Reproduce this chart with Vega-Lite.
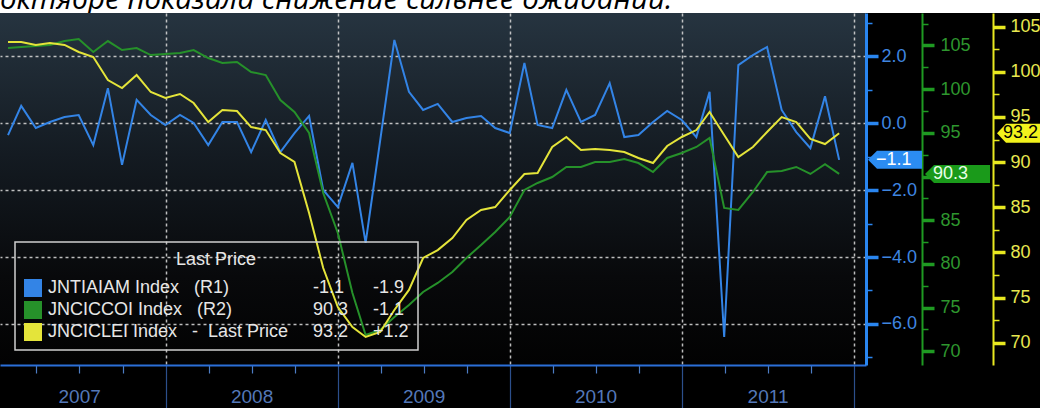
{
  "$schema": "https://vega.github.io/schema/vega-lite/v6.json",
  "background": "#000000",
  "padding": 0,
  "spacing": 0,
  "bounds": "flush",
  "config": {"view": {"stroke": null}},
  "datasets": {
    "m": [
      {"date": "2007-01-31", "tia": -0.36, "coi": 104.70, "lei": 103.30},
      {"date": "2007-02-28", "tia": 0.51, "coi": 104.82, "lei": 103.30},
      {"date": "2007-03-31", "tia": -0.15, "coi": 104.93, "lei": 102.97},
      {"date": "2007-04-30", "tia": 0.03, "coi": 105.05, "lei": 103.19},
      {"date": "2007-05-31", "tia": 0.18, "coi": 105.50, "lei": 102.97},
      {"date": "2007-06-30", "tia": 0.24, "coi": 105.73, "lei": 102.19},
      {"date": "2007-07-31", "tia": -0.66, "coi": 104.24, "lei": 101.64},
      {"date": "2007-08-31", "tia": 1.04, "coi": 105.50, "lei": 99.09},
      {"date": "2007-09-30", "tia": -1.25, "coi": 104.47, "lei": 98.20},
      {"date": "2007-10-31", "tia": 0.69, "coi": 104.70, "lei": 99.64},
      {"date": "2007-11-30", "tia": 0.24, "coi": 103.90, "lei": 97.76},
      {"date": "2007-12-31", "tia": -0.06, "coi": 104.02, "lei": 97.10},
      {"date": "2008-01-31", "tia": 0.24, "coi": 104.13, "lei": 97.54},
      {"date": "2008-02-29", "tia": 0.00, "coi": 104.47, "lei": 96.54},
      {"date": "2008-03-31", "tia": -0.66, "coi": 103.56, "lei": 94.44},
      {"date": "2008-04-30", "tia": 0.03, "coi": 102.99, "lei": 95.77},
      {"date": "2008-05-31", "tia": 0.03, "coi": 103.10, "lei": 95.66},
      {"date": "2008-06-30", "tia": -0.87, "coi": 101.96, "lei": 93.88},
      {"date": "2008-07-31", "tia": 0.09, "coi": 101.61, "lei": 93.55},
      {"date": "2008-08-31", "tia": -0.87, "coi": 98.75, "lei": 91.01},
      {"date": "2008-09-30", "tia": -0.30, "coi": 97.38, "lei": 90.01},
      {"date": "2008-10-31", "tia": 0.21, "coi": 94.98, "lei": 84.36},
      {"date": "2008-11-30", "tia": -2.00, "coi": 88.11, "lei": 78.27},
      {"date": "2008-12-31", "tia": -2.51, "coi": 83.54, "lei": 73.95},
      {"date": "2009-01-31", "tia": -1.19, "coi": 76.67, "lei": 71.74},
      {"date": "2009-02-28", "tia": -3.58, "coi": 71.87, "lei": 70.63},
      {"date": "2009-03-31", "tia": -0.51, "coi": 72.44, "lei": 71.18},
      {"date": "2009-04-30", "tia": 2.48, "coi": 73.93, "lei": 73.62},
      {"date": "2009-05-31", "tia": 0.93, "coi": 75.30, "lei": 75.84},
      {"date": "2009-06-30", "tia": 0.39, "coi": 76.79, "lei": 79.38},
      {"date": "2009-07-31", "tia": 0.57, "coi": 77.82, "lei": 80.26},
      {"date": "2009-08-31", "tia": 0.03, "coi": 79.08, "lei": 81.59},
      {"date": "2009-09-30", "tia": 0.15, "coi": 80.68, "lei": 83.59},
      {"date": "2009-10-31", "tia": 0.21, "coi": 82.16, "lei": 84.69},
      {"date": "2009-11-30", "tia": -0.15, "coi": 83.65, "lei": 85.02},
      {"date": "2009-12-31", "tia": -0.30, "coi": 85.37, "lei": 86.91},
      {"date": "2010-01-31", "tia": 1.79, "coi": 88.46, "lei": 88.68},
      {"date": "2010-02-28", "tia": -0.06, "coi": 89.26, "lei": 88.79},
      {"date": "2010-03-31", "tia": -0.15, "coi": 89.94, "lei": 91.67},
      {"date": "2010-04-30", "tia": 0.99, "coi": 91.09, "lei": 92.78},
      {"date": "2010-05-31", "tia": 0.03, "coi": 91.09, "lei": 91.34},
      {"date": "2010-06-30", "tia": 0.24, "coi": 91.66, "lei": 91.45},
      {"date": "2010-07-31", "tia": 1.19, "coi": 91.66, "lei": 91.34},
      {"date": "2010-08-31", "tia": -0.42, "coi": 92.00, "lei": 91.12},
      {"date": "2010-09-30", "tia": -0.36, "coi": 91.54, "lei": 90.45},
      {"date": "2010-10-31", "tia": 0.03, "coi": 90.51, "lei": 89.90},
      {"date": "2010-11-30", "tia": 0.36, "coi": 92.12, "lei": 91.78},
      {"date": "2010-12-31", "tia": 0.09, "coi": 92.69, "lei": 92.78},
      {"date": "2011-01-31", "tia": -0.42, "coi": 93.38, "lei": 93.55},
      {"date": "2011-02-28", "tia": 0.93, "coi": 94.41, "lei": 95.55},
      {"date": "2011-03-31", "tia": -6.39, "coi": 86.40, "lei": 93.00},
      {"date": "2011-04-30", "tia": 1.73, "coi": 86.17, "lei": 90.56},
      {"date": "2011-05-31", "tia": 2.03, "coi": 88.23, "lei": 91.67},
      {"date": "2011-06-30", "tia": 2.27, "coi": 90.51, "lei": 93.33},
      {"date": "2011-07-31", "tia": 0.39, "coi": 90.63, "lei": 94.99},
      {"date": "2011-08-31", "tia": -0.27, "coi": 91.09, "lei": 94.44},
      {"date": "2011-09-30", "tia": -0.75, "coi": 90.29, "lei": 92.56},
      {"date": "2011-10-31", "tia": 0.80, "coi": 91.40, "lei": 92.00},
      {"date": "2011-11-30", "tia": -1.10, "coi": 90.30, "lei": 93.20}
    ]
  },
  "vconcat": [
    {
      "width": 1040,
      "height": 13,
      "view": {"fill": "#ffffff", "stroke": null},
      "data": {"values": [{"t": "октябре показала снижение сильнее ожиданий."}]},
      "mark": {"type": "text", "clip": true, "align": "left", "baseline": "alphabetic", "font": "Open Sans", "fontStyle": "italic", "fontSize": 29.5, "color": "#000000", "dy": -4},
      "encoding": {"text": {"field": "t"}, "x": {"value": 0}, "y": {"value": "height"}}
    },
    {
      "width": 866,
      "height": 352,
      "view": {"stroke": null, "fill": {"gradient": "linear", "x1": 0, "y1": 0, "x2": 0, "y2": 1, "stops": [{"offset": 0, "color": "#263440"}, {"offset": 0.4, "color": "#141b22"}, {"offset": 0.75, "color": "#08090b"}, {"offset": 1, "color": "#020202"}]}},
      "data": {"name": "m"},
      "resolve": {"scale": {"y": "independent"}},
      "layer": [
        {
          "mark": {"type": "line", "color": "#3384e6", "strokeWidth": 2, "clip": true},
          "encoding": {
            "x": {
              "field": "date", "type": "temporal",
              "scale": {"type": "utc", "domain": [{"year": 2007, "month": 1, "date": 14, "utc": true}, {"year": 2012, "month": 1, "date": 26, "utc": true}]},
              "axis": {
                "orient": "bottom", "title": null,
                "values": [
                  {"year": 2007, "month": 4, "date": 1, "utc": true}, {"year": 2007, "month": 7, "date": 1, "utc": true}, {"year": 2007, "month": 10, "date": 1, "utc": true},
                  {"year": 2008, "month": 1, "date": 1, "utc": true}, {"year": 2008, "month": 4, "date": 1, "utc": true}, {"year": 2008, "month": 7, "date": 1, "utc": true}, {"year": 2008, "month": 10, "date": 1, "utc": true},
                  {"year": 2009, "month": 1, "date": 1, "utc": true}, {"year": 2009, "month": 4, "date": 1, "utc": true}, {"year": 2009, "month": 7, "date": 1, "utc": true}, {"year": 2009, "month": 10, "date": 1, "utc": true},
                  {"year": 2010, "month": 1, "date": 1, "utc": true}, {"year": 2010, "month": 4, "date": 1, "utc": true}, {"year": 2010, "month": 7, "date": 1, "utc": true}, {"year": 2010, "month": 10, "date": 1, "utc": true},
                  {"year": 2011, "month": 1, "date": 1, "utc": true}, {"year": 2011, "month": 4, "date": 1, "utc": true}, {"year": 2011, "month": 7, "date": 1, "utc": true}, {"year": 2011, "month": 10, "date": 1, "utc": true},
                  {"year": 2012, "month": 1, "date": 1, "utc": true}
                ],
                "domainColor": "#2b6fd8", "domainWidth": 2,
                "grid": true, "gridColor": "#d2d2d2", "gridDash": [3, 3], "gridWidth": 1.5,
                "gridOpacity": {"condition": {"test": "utcmonth(datum.value) === 0", "value": 0.9}, "value": 0},
                "tickSize": 43,
                "tickDash": {"condition": {"test": "utcmonth(datum.value) === 0", "value": [60, 1]}, "value": [8, 80]},
                "tickColor": {"condition": {"test": "utcmonth(datum.value) === 0", "value": "#2c4f8c"}, "value": "#4d7cc4"},
                "tickWidth": 1.2,
                "labelExpr": "utcmonth(datum.value) === 6 ? utcFormat(datum.value, '%Y') : ''",
                "labelFont": "Liberation Sans", "labelFontSize": 19, "labelColor": "#5478b8",
                "labelPadding": -21, "labelFlush": false, "labelOverlap": false
              }
            },
            "y": {
              "field": "tia", "type": "quantitative",
              "scale": {"domain": [-7.224, 3.284], "nice": false, "zero": false},
              "axis": {
                "orient": "right", "offset": 0, "title": null,
                "values": [3, 2, 1, 0, -1, -2, -3, -4, -5, -6, -7],
                "labelExpr": "datum.value % 2 === 0 ? format(datum.value, '.1f') : ''",
                "tickSize": 12,
                "tickDash": {"condition": {"test": "datum.value % 2 === 0", "value": [20, 1]}, "value": [6, 30]},
                "tickWidth": {"condition": {"test": "datum.value % 2 === 0", "value": 3.5}, "value": 1.5},
                "tickColor": "#2a86f0", "domainColor": "#2a86f0", "domainWidth": 3,
                "labelColor": "#3f86e0", "labelFont": "Liberation Sans", "labelFontSize": 18, "labelPadding": 3, "labelOverlap": false,
                "grid": true, "gridColor": "#d2d2d2", "gridDash": [3, 3], "gridWidth": 1.5,
                "gridOpacity": {"condition": {"test": "datum.value % 2 === 0", "value": 0.9}, "value": 0}
              }
            },
            "color": {
              "datum": "a",
              "scale": {"domain": ["a", "b", "c", "a1", "b1", "c1", "a2", "b2", "c2"], "range": ["#3384e6", "#26912a", "#e4e43a", "#000000", "#000000", "#000000", "#000000", "#000000", "#000000"]},
              "legend": {
                "orient": "none", "legendX": 15, "legendY": 242,
                "title": "Last Price", "titleColor": "#e6e6e6", "titleFont": "Liberation Sans", "titleFontSize": 18, "titleFontWeight": "normal", "titleAnchor": "middle", "titlePadding": 10,
                "columns": 3, "columnPadding": -8, "rowPadding": 4,
                "symbolType": "square", "symbolSize": 324, "symbolStrokeWidth": 0,
                "labelFont": "Liberation Sans", "labelFontSize": 18, "labelColor": "#e6e6e6", "labelOffset": 6, "labelLimit": 400,
                "labelExpr": "datum.value === 'a' ? 'JNTIAIAM Index\u00a0\u00a0\u00a0(R1)' : datum.value === 'a1' ? '-1.1' : datum.value === 'a2' ? '\u00a0\u00a0\u00a0-1.9' : datum.value === 'b' ? 'JNCICCOI Index\u00a0\u00a0\u00a0(R2)' : datum.value === 'b1' ? '90.3' : datum.value === 'b2' ? '\u00a0\u00a0\u00a0-1.1' : datum.value === 'c' ? 'JNCICLEI Index\u00a0\u00a0\u00a0-\u00a0\u00a0Last Price' : datum.value === 'c1' ? '93.2' : '\u00a0\u00a0\u00a0+1.2'",
                "padding": 9, "strokeColor": "#d0d0d0",
                "encode": {
                  "legend": {"update": {"strokeWidth": {"value": 1.5}}},
                  "symbols": {"update": {"fill": {"scale": "color", "field": "value"}, "stroke": {"value": "transparent"}, "opacity": {"signal": "length(datum.value) > 1 ? 0 : 1"}}}
                }
              }
            }
          }
        },
        {
          "mark": {"type": "line", "color": "#26912a", "strokeWidth": 2, "clip": true},
          "encoding": {
            "x": {"field": "date", "type": "temporal"},
            "y": {
              "field": "coi", "type": "quantitative",
              "scale": {"domain": [68.43, 108.71], "nice": false, "zero": false},
              "axis": {
                "orient": "right", "offset": 56, "title": null, "grid": false,
                "values": [107.5, 105, 102.5, 100, 97.5, 95, 92.5, 90, 87.5, 85, 82.5, 80, 77.5, 75, 72.5, 70],
                "labelExpr": "datum.value % 5 === 0 ? format(datum.value, 'd') : ''",
                "tickSize": 12,
                "tickDash": {"condition": {"test": "datum.value % 5 === 0", "value": [20, 1]}, "value": [6, 30]},
                "tickWidth": {"condition": {"test": "datum.value % 5 === 0", "value": 3.5}, "value": 1.5},
                "tickColor": "#1f9a22", "domainColor": "#1f9a22", "domainWidth": 2,
                "labelColor": "#2e962e", "labelFont": "Liberation Sans", "labelFontSize": 18, "labelPadding": 6, "labelOverlap": false
              }
            },
            "color": {"datum": "b"}
          }
        },
        {
          "mark": {"type": "line", "color": "#e4e43a", "strokeWidth": 2, "clip": true},
          "encoding": {
            "x": {"field": "date", "type": "temporal"},
            "y": {
              "field": "lei", "type": "quantitative",
              "scale": {"domain": [67.53, 106.51], "nice": false, "zero": false},
              "axis": {
                "orient": "right", "offset": 127, "title": null, "grid": false,
                "values": [105, 102.5, 100, 97.5, 95, 92.5, 90, 87.5, 85, 82.5, 80, 77.5, 75, 72.5, 70],
                "labelExpr": "datum.value % 5 === 0 ? format(datum.value, 'd') : ''",
                "tickSize": 12,
                "tickDash": {"condition": {"test": "datum.value % 5 === 0", "value": [20, 1]}, "value": [6, 30]},
                "tickWidth": {"condition": {"test": "datum.value % 5 === 0", "value": 3.5}, "value": 1.5},
                "tickColor": "#e8e820", "domainColor": "#e8e820", "domainWidth": 2,
                "labelColor": "#e8e850", "labelFont": "Liberation Sans", "labelFontSize": 18, "labelPadding": 5, "labelOverlap": false
              }
            },
            "color": {"datum": "c"}
          }
        },
        {
          "transform": [{"filter": "utcyear(datum.date) === 2011 && utcmonth(datum.date) === 10"}],
          "mark": {"type": "point", "shape": "M0.2,0L1.1,-0.9L5.6,-0.9L5.6,0.9L1.1,0.9Z", "size": 400, "filled": true, "color": "#2b8cf2", "opacity": 1, "strokeWidth": 0, "clip": false},
          "encoding": {"x": {"value": "width"}, "y": {"field": "tia", "type": "quantitative", "scale": {"domain": [-7.224, 3.284], "nice": false, "zero": false}, "axis": null}}
        },
        {
          "transform": [{"filter": "utcyear(datum.date) === 2011 && utcmonth(datum.date) === 10"}],
          "mark": {"type": "text", "align": "left", "baseline": "middle", "dx": 10, "font": "Liberation Sans", "fontSize": 18, "color": "#ffffff", "clip": false},
          "encoding": {"x": {"value": "width"}, "y": {"field": "tia", "type": "quantitative", "scale": {"domain": [-7.224, 3.284], "nice": false, "zero": false}, "axis": null}, "text": {"field": "tia", "type": "quantitative", "format": ".1f"}}
        },
        {
          "transform": [{"filter": "utcyear(datum.date) === 2011 && utcmonth(datum.date) === 10"}],
          "mark": {"type": "point", "shape": "M5.9,0L6.8,-0.9L12.4,-0.9L12.4,0.9L6.8,0.9Z", "size": 400, "filled": true, "color": "#1a9a1a", "opacity": 1, "strokeWidth": 0, "clip": false},
          "encoding": {"x": {"value": "width"}, "y": {"field": "coi", "type": "quantitative", "scale": {"domain": [68.43, 108.71], "nice": false, "zero": false}, "axis": null}}
        },
        {
          "transform": [{"filter": "utcyear(datum.date) === 2011 && utcmonth(datum.date) === 10"}],
          "mark": {"type": "text", "align": "left", "baseline": "middle", "dx": 67, "font": "Liberation Sans", "fontSize": 18, "color": "#e8ffe8", "clip": false},
          "encoding": {"x": {"value": "width"}, "y": {"field": "coi", "type": "quantitative", "scale": {"domain": [68.43, 108.71], "nice": false, "zero": false}, "axis": null}, "text": {"field": "coi", "type": "quantitative", "format": ".1f"}}
        },
        {
          "transform": [{"filter": "utcyear(datum.date) === 2011 && utcmonth(datum.date) === 10"}],
          "mark": {"type": "point", "shape": "M13.1,0L14.0,-0.95L17.6,-0.95L17.6,0.95L14.0,0.95Z", "size": 400, "filled": true, "color": "#f2f21c", "opacity": 1, "strokeWidth": 0, "clip": false},
          "encoding": {"x": {"value": "width"}, "y": {"field": "lei", "type": "quantitative", "scale": {"domain": [67.53, 106.51], "nice": false, "zero": false}, "axis": null}}
        },
        {
          "transform": [{"filter": "utcyear(datum.date) === 2011 && utcmonth(datum.date) === 10"}],
          "mark": {"type": "text", "align": "left", "baseline": "middle", "dx": 137, "font": "Liberation Sans", "fontSize": 18, "color": "#000000", "clip": false},
          "encoding": {"x": {"value": "width"}, "y": {"field": "lei", "type": "quantitative", "scale": {"domain": [67.53, 106.51], "nice": false, "zero": false}, "axis": null}, "text": {"field": "lei", "type": "quantitative", "format": ".1f"}}
        }
      ]
    },
    {
      "width": 1040,
      "height": 43,
      "view": {"stroke": null},
      "data": {"values": [{}]},
      "mark": {"type": "text", "text": ""}
    }
  ]
}
